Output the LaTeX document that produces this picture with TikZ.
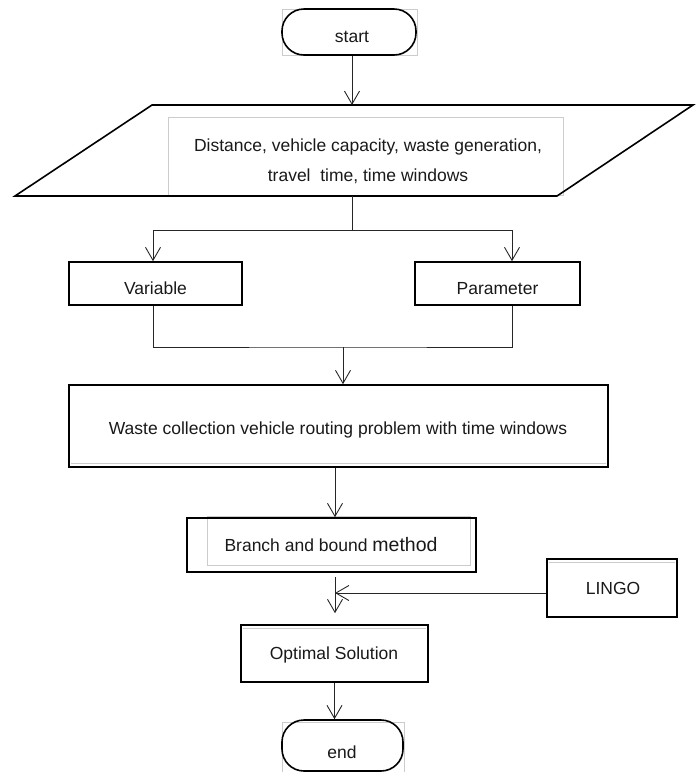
\documentclass[tikz,border=0pt]{standalone}
\usepackage{fontspec}
\setmainfont{Liberation Sans}
\usetikzlibrary{arrows.meta,calc}
\begin{document}
\begin{tikzpicture}[x=1pt,y=-1pt,
  box/.style={draw=black, line width=1.6pt, rectangle, inner sep=0pt},
  term/.style={box, rounded corners=22pt},
  txt/.style={anchor=base, inner sep=0pt, text=black!90, font=\fontsize{17.5}{21}\selectfont},
  conn/.style={draw=black!85, line width=0.9pt},
  arr/.style={conn, -{Straight Barb[length=13pt,width=15pt,line width=0.9pt]}},
  faint/.style={draw=black!20, line width=0.7pt}]
\useasboundingbox (0,0) rectangle (699,772);

% faint frames
\draw[faint] (282,9) rectangle (417,55);
\draw[faint] (168,117) rectangle (563,195);
\draw[faint] (207,516) rectangle (470,565);
\draw[faint] (282,722) rectangle (404,772);
\draw[faint] (71,463) -- (606,463);
\draw[faint] (243,628) -- (426,628);
\draw[faint] (549,562) -- (675,562);

% start
\node[term, minimum width=134pt, minimum height=46pt] (start) at (349,32) {};
\node[txt] (tstart) at (352,42) {start};

% input parallelogram
\coordinate (inTop) at (352,105);
\coordinate (inBot) at (352,196);
\draw[line width=1.6pt] (152,105) -- (693,105) -- (557,196) -- (15,196) -- cycle;
\node[txt] (tin1) at (368,151) {Distance, vehicle capacity, waste generation,};
\node[txt] (tin2) at (368,181) {travel\ \ time, time windows};

% variable / parameter
\node[box, minimum width=173pt, minimum height=43pt] (var) at (155.5,283.5) {};
\node[txt] (tvar) at (155.5,294) {Variable};
\node[box, minimum width=165pt, minimum height=43pt] (par) at (497.5,283.5) {};
\node[txt] (tpar) at (497.5,294) {Parameter};

% main problem
\node[box, minimum width=539pt, minimum height=82pt] (main) at (338.5,426) {};
\node[txt] (tmain) at (338,434) {Waste collection vehicle routing problem with time windows};

% branch and bound
\node[box, minimum width=289pt, minimum height=54pt] (branch) at (331.5,545) {};
\node[txt] (tbranch) at (331,551) {Branch and bound {\fontsize{19.5}{21}\selectfont method}};

% LINGO
\node[box, minimum width=130pt, minimum height=58pt] (lingo) at (612,588) {};
\node[txt] (tlingo) at (613,594) {LINGO};

% optimal solution
\node[box, minimum width=187pt, minimum height=57pt] (opt) at (334.5,653.5) {};
\node[txt] (topt) at (334,659) {Optimal Solution};

% end
\node[term, minimum width=121pt, minimum height=51pt] (endn) at (342.5,745.5) {};
\node[txt] (tend) at (342,758) {end};

% connectors
\draw[arr] (start.south -| inTop) -- (inTop);
\coordinate (split) at (352,230);
\draw[conn] (inBot) -- (split);
\draw[arr] (split) -| ([xshift=-2.5pt]var.north);
\draw[arr] (split) -| ([xshift=14.5pt]par.north);
\coordinate (join) at (343,347);
\draw[conn] ([xshift=-2.5pt]var.south) |- (join) -| ([xshift=14.5pt]par.south);
\draw[arr] (join) -- (join |- main.north);
\draw[arr] ([xshift=-3.5pt]main.south) -- ([xshift=-3.5pt]main.south |- branch.north);
\coordinate (merge) at (335,593);
\draw[arr] ($(branch.south -| merge)+(0,4)$) -- ($(opt.north -| merge)+(0,-11)$);
\draw[arr] (lingo.west |- merge) -- (merge);
\draw[arr] (opt.south) -- (opt.south |- endn.north);
\end{tikzpicture}
\end{document}
